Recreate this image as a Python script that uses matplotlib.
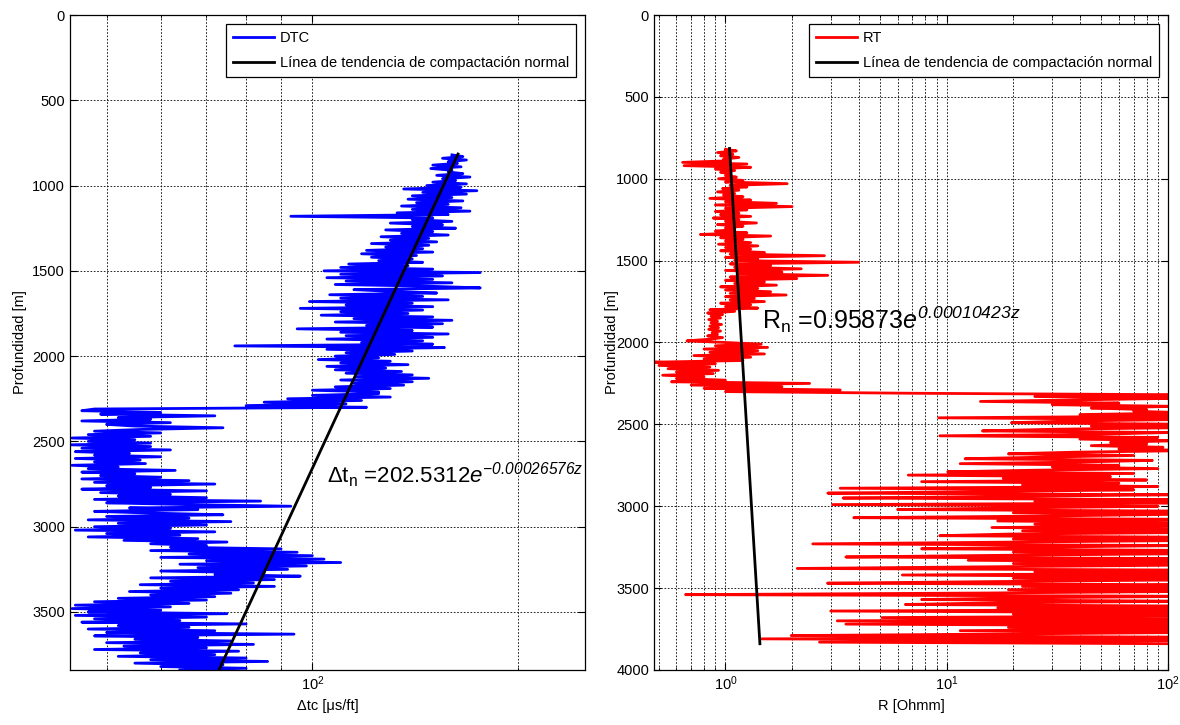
import numpy as np
import matplotlib
matplotlib.use('Agg')
import matplotlib.pyplot as plt
from matplotlib.ticker import LogLocator, NullFormatter, MultipleLocator

plt.rcParams['font.family'] = ['Liberation Sans', 'DejaVu Sans']
plt.rcParams['mathtext.fontset'] = 'custom'
plt.rcParams['mathtext.rm'] = 'Liberation Sans'
plt.rcParams['mathtext.it'] = 'Liberation Sans:italic'
plt.rcParams['mathtext.sf'] = 'Liberation Sans:italic'
plt.rcParams['mathtext.default'] = 'regular'

# log sampling depth [m], one sample every 10 m
depth = np.arange(820, 3850, 10)

# sonic log DTC [us/ft]
dtc = [
    160, 166, 155, 168, 158, 163, 150, 165, 149, 160,
    158, 166, 152, 170, 155, 162, 150, 168, 147, 165,
    136, 174, 145, 168, 140, 160, 138, 166, 142, 158,
    135, 165, 140, 170, 133, 158, 93, 150, 140, 160,
    130, 155, 140, 162, 128, 150, 135, 158, 126, 148,
    130, 152, 122, 148, 128, 145, 120, 150, 118, 142,
    122, 140, 125, 145, 113, 138, 110, 150, 104, 176,
    110, 155, 105, 150, 112, 160, 108, 148, 176, 115,
    130, 152, 106, 145, 110, 158, 99, 140, 112, 150,
    96, 145, 110, 138, 103, 150, 115, 160, 108, 155,
    120, 150, 95, 140, 110, 158, 112, 150, 105, 145,
    118, 150, 77, 156, 105, 140, 112, 132, 108, 125,
    102, 130, 110, 138, 105, 128, 108, 135, 112, 140,
    116, 148, 110, 140, 115, 136, 108, 130, 100, 125,
    125, 100, 130, 92, 118, 85, 112, 80, 120, 48,
    46, 60, 49, 72, 52, 58, 46, 62, 50, 55,
    74, 56, 48, 60, 47, 58, 44.5, 55, 47, 58,
    44.3, 58, 46, 62, 45, 54, 48, 60, 45, 56,
    48, 57, 44.5, 52, 47, 63, 46, 55, 49, 60,
    46, 66, 48, 72, 50, 58, 46, 70, 49, 62,
    52, 70, 48, 84, 50, 65, 93, 54, 68, 48,
    58, 74, 50, 66, 47, 76, 52, 70, 48, 62,
    45, 72, 50, 64, 47, 68, 53, 75, 58, 70,
    62, 90, 58, 95, 66, 100, 60, 104, 70, 110,
    64, 98, 68, 92, 60, 85, 72, 96, 58, 88,
    62, 82, 56, 88, 60, 78, 54, 76, 58, 72,
    52, 70, 48, 66, 45, 62, 44.5, 60, 47, 75,
    45, 70, 48, 64, 46, 80, 52, 66, 47, 72,
    50, 94, 48, 68, 55, 76, 50, 82, 53, 70,
    48, 78, 56, 72, 52, 80, 58, 86, 55, 74,
    60, 80, 64,
]

# resistivity log RT [Ohmm]
rt = [
    1.0, 1.12, 0.92, 1.08, 0.95, 1.15, 0.98, 1.05, 0.64, 1.25,
    0.65, 1.3, 0.9, 1.1, 0.95, 1.05, 1.0, 1.12, 0.93, 1.2,
    1.0, 1.9, 1.05, 1.25, 0.97, 1.15, 0.92, 1.1, 0.98, 1.2,
    0.85, 1.3, 1.0, 1.7, 0.9, 2.0, 1.0, 1.25, 0.9, 1.15,
    0.95, 1.3, 0.88, 1.15, 1.0, 1.38, 0.92, 1.2, 1.0, 1.1,
    0.9, 1.25, 0.77, 1.6, 0.95, 1.2, 1.0, 1.3, 0.93, 1.4,
    1.0, 1.3, 0.95, 1.5, 1.05, 2.8, 1.0, 1.4, 1.1, 4.0,
    1.05, 1.6, 1.1, 2.2, 1.0, 1.8, 1.15, 2.9, 1.05, 2.1,
    1.0, 1.5, 1.1, 1.7, 0.95, 1.4, 1.0, 1.6, 1.05, 1.88,
    1.0, 1.35, 1.05, 1.5, 0.95, 1.3, 1.0, 1.4, 0.85, 1.1,
    0.83, 0.97, 0.86, 0.95, 0.84, 0.92, 0.86, 0.96, 0.85, 0.93,
    0.84, 0.95, 0.87, 0.92, 0.83, 0.97, 0.85, 0.67, 1.0, 1.45,
    0.9, 1.55, 0.8, 1.4, 0.85, 1.5, 0.72, 1.3, 0.8, 1.2,
    0.48, 0.9, 0.5, 0.85, 0.55, 0.93, 0.6, 0.88, 0.52, 0.8,
    0.6, 1.0, 0.57, 2.4, 0.7, 1.8, 0.8, 3.3, 1.0, 6.9,
    150, 25, 120, 40, 14.2, 60, 30, 110, 45, 80,
    70, 130, 40, 110, 9.2, 120, 35, 19.6, 140, 45,
    120, 30, 14.5, 100, 50, 9.3, 90, 40, 110, 55,
    80, 45, 95, 60, 130, 38, 19, 70, 28, 12.1,
    85, 40, 11.5, 60, 30, 90, 25, 10.1, 70, 6.7,
    55, 18, 80, 7.7, 60, 22, 90, 3.3, 70, 17,
    2.9, 100, 20, 3.4, 110, 25, 120, 3.05, 90, 22,
    6.0, 120, 20, 100, 28, 3.8, 130, 17, 110, 25,
    130, 16, 120, 22, 140, 19, 9.3, 150, 20, 110,
    17, 2.48, 120, 25, 7.7, 130, 20, 120, 17, 3.5,
    120, 12.5, 140, 20, 110, 16, 2.11, 130, 25, 120,
    6.3, 140, 20, 120, 17, 2.89, 150, 22, 120, 19,
    130, 15, 0.66, 140, 20, 7.7, 120, 17, 6.5, 130,
    17, 140, 2.99, 120, 20, 130, 5.1, 120, 3.2, 130,
    3.5, 140, 19, 120, 11.5, 150, 20, 1.98, 140, 1.46,
    130, 2.66, 120,
]

# normal compaction trend lines (end points)
trend_depth = [815, 3840]
dtc_trend = [163.3, 73.0]
rt_trend = [1.043, 1.431]

fig = plt.figure(figsize=(11.8, 7.25), dpi=100)
ax1 = fig.add_axes([0.0593, 0.0759, 0.4364, 0.9034])
ax2 = fig.add_axes([0.5542, 0.0759, 0.4356, 0.9034])

ax1.plot(dtc, depth, color=(0, 0, 1), lw=2, label='DTC')
ax1.plot(dtc_trend, trend_depth, color='k', lw=2,
         label='Línea de tendencia de compactación normal')
ax2.plot(rt, depth, color=(1, 0, 0), lw=2, label='RT')
ax2.plot(rt_trend, trend_depth, color='k', lw=2,
         label='Línea de tendencia de compactación normal')

ax1.set_xlim(44.2, 250.4)
ax1.set_ylim(3840, 0)
ax2.set_xlim(0.475, 100)
ax2.set_ylim(4000, 0)

for ax in (ax1, ax2):
    ax.set_xscale('log')
    ax.xaxis.set_major_locator(LogLocator(base=10))
    ax.xaxis.set_minor_locator(LogLocator(base=10, subs=np.arange(2, 10)))
    ax.xaxis.set_minor_formatter(NullFormatter())
    ax.yaxis.set_major_locator(MultipleLocator(500))
    ax.grid(True, which='both', axis='x', color='k', ls=(0, (2, 2)), lw=0.6)
    ax.grid(True, which='major', axis='y', color='k', ls=(0, (2, 2)), lw=0.6)
    ax.tick_params(which='both', direction='in', top=True, right=True,
                   labelsize=10.5)
    ax.tick_params(which='major', length=5)
    ax.tick_params(which='minor', length=2.5)
    for s in ax.spines.values():
        s.set_linewidth(0.9)
    leg = ax.legend(loc='upper right', fancybox=False, edgecolor='k',
                    framealpha=1, fontsize=10.5, handlelength=2.8,
                    handletextpad=0.4, labelspacing=0.75, borderpad=0.5,
                    borderaxespad=0.6)
    leg.get_frame().set_linewidth(0.9)

ax1.set_ylabel('Profundidad [m]', fontsize=10.5)
ax2.set_ylabel('Profundidad [m]', fontsize=10.5, labelpad=-2)
ax1.set_xlabel('Δtc [μs/ft]', fontsize=10.5)
ax2.set_xlabel('R [Ohmm]', fontsize=10.5)

ax1.text(0.499, 0.2855,
         r'$\Delta t_{n}$ =202.5312$\mathit{e}^{\mathsf{-0.00026576z}}$',
         transform=ax1.transAxes, fontsize=16, va='baseline')
ax2.text(0.2105, 0.5206,
         r'$R_{n}$ =0.95873$\mathit{e}^{\mathsf{0.00010423z}}$',
         transform=ax2.transAxes, fontsize=18, va='baseline')

fig.savefig('out.png', dpi=100)
